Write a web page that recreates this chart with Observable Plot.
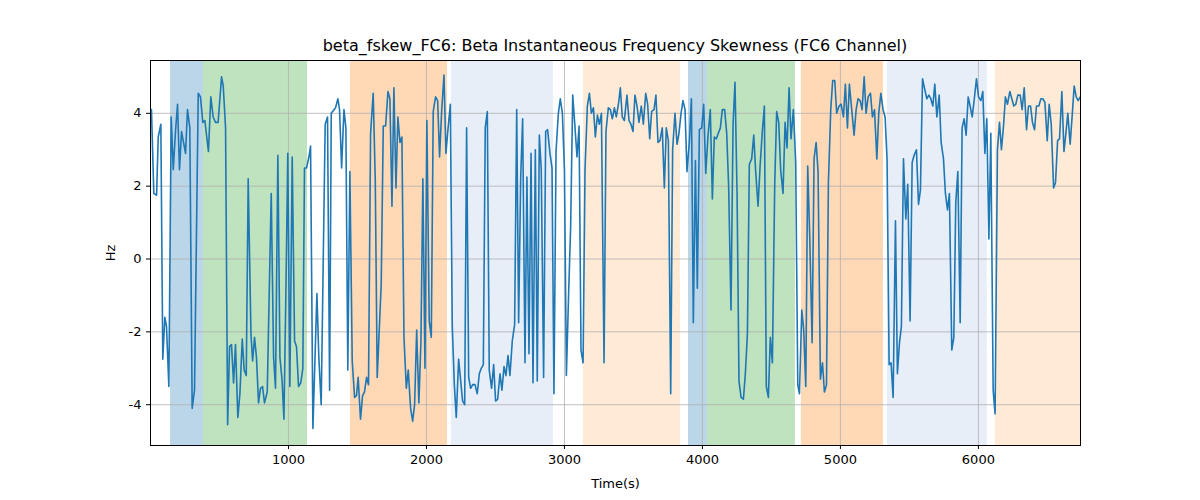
<!DOCTYPE html>
<html><head><meta charset="utf-8">
<script src="https://cdn.jsdelivr.net/npm/d3@7"></script>
<script src="https://cdn.jsdelivr.net/npm/@observablehq/plot@0.6"></script>
<style>
body{margin:0;background:#fff;font-family:"DejaVu Sans",sans-serif;}
#wrap{position:relative;width:1200px;height:500px;}
#title{position:absolute;top:36px;left:150px;width:930px;text-align:center;font-size:16px;color:#000;}
</style></head><body>
<div id="wrap"><div id="title">beta_fskew_FC6: Beta Instantaneous Frequency Skewness (FC6 Channel)</div></div>
<script>
const times = [7,24,44,56,75,89,104,116,133,150,165,181,196,210,225,254,268,285,302,319,346,362,379,394,420,437,454,471,490,515,527,544,559,573,587,602,616,633,648,665,679,694,708,728,740,754,768,783,797,812,826,846,875,892,906,923,938,954,967,984,995,1010,1027,1044,1058,1073,1089,1104,1116,1131,1148,1160,1177,1206,1220,1237,1266,1283,1298,1310,1341,1358,1370,1385,1402,1416,1430,1445,1462,1479,1493,1505,1522,1537,1551,1566,1580,1595,1614,1629,1643,1672,1687,1704,1721,1735,1750,1764,1779,1793,1808,1822,1837,1854,1868,1885,1900,1914,1929,1945,1960,1974,1989,2003,2020,2035,2049,2066,2081,2095,2110,2127,2141,2158,2173,2187,2202,2216,2233,2248,2262,2277,2291,2306,2320,2335,2352,2368,2383,2397,2412,2426,2441,2455,2472,2487,2501,2516,2533,2547,2562,2576,2591,2605,2622,2639,2654,2668,2683,2697,2714,2728,2743,2758,2772,2789,2803,2818,2832,2849,2864,2878,2895,2910,2924,2939,2956,2970,2985,3000,3014,3031,3045,3060,3074,3091,3106,3120,3135,3149,3166,3181,3195,3210,3224,3239,3253,3268,3287,3301,3318,3333,3347,3362,3376,3393,3405,3419,3434,3453,3468,3482,3497,3511,3526,3540,3557,3572,3589,3603,3618,3632,3649,3663,3678,3692,3709,3724,3738,3753,3770,3784,3801,3816,3830,3845,3859,3874,3888,3905,3920,3934,3949,3963,3978,3995,4009,4024,4040,4057,4072,4086,4101,4115,4130,4144,4161,4176,4190,4207,4222,4236,4251,4265,4280,4297,4311,4326,4340,4357,4372,4386,4403,4418,4434,4449,4463,4478,4492,4507,4524,4538,4553,4567,4584,4599,4613,4628,4642,4659,4676,4691,4703,4720,4734,4749,4763,4778,4795,4809,4824,4838,4855,4870,4884,4899,4913,4930,4944,4959,4973,4990,5005,5022,5036,5051,5065,5082,5099,5114,5128,5143,5157,5172,5186,5201,5218,5232,5247,5264,5278,5293,5309,5324,5338,5353,5367,5382,5399,5413,5428,5442,5457,5474,5488,5505,5520,5534,5551,5566,5580,5595,5609,5626,5641,5655,5670,5684,5699,5716,5730,5747,5761,5776,5790,5807,5822,5836,5851,5868,5882,5897,5911,5926,5940,5955,5969,5986,6001,6018,6032,6047,6061,6076,6090,6107,6121,6138,6153,6167,6182,6196,6211,6228,6242,6257,6271,6286,6303,6317,6332,6349,6363,6378,6392,6407,6421,6438,6453,6467,6482,6499,6513,6528,6545,6559,6574,6588,6605,6620,6634,6648,6665,6680,6694,6709,6723,6738];
const values = [4.1,1.8,1.75,3.35,3.7,-2.75,-1.6,-1.85,-3.5,3.9,2.45,3.5,4.25,2.45,3.5,2.9,4.1,3.6,-4.1,-3.6,4.55,4.45,3.75,3.8,2.95,4.45,3.9,3.75,3.75,5.0,4.75,3.6,-4.55,-2.4,-2.35,-3.4,-2.35,-4.35,-3.7,-2.2,-3.05,-3.2,2.2,-2.05,-2.8,-2.15,-2.7,-3.95,-3.55,-3.5,-3.95,-3.65,1.8,-2.7,-3.55,2.85,-2.7,-3.35,-4.4,-0.2,2.9,-3.5,2.8,-2.25,-2.4,-3.5,-3.4,-3.0,2.5,2.5,2.8,3.1,-4.65,-0.95,-2.7,-4.0,3.7,3.9,-3.6,4.0,4.15,4.4,4.1,2.5,4.1,3.6,-3.05,2.4,-2.8,-3.8,-3.75,-3.25,-4.4,-3.75,-3.65,-3.25,-3.45,3.45,4.55,2.15,-3.25,-0.7,3.65,3.65,4.6,4.4,1.45,4.7,1.95,3.9,3.2,3.35,-2.15,-3.55,-3.05,-4.1,-4.45,-4.0,-1.95,-3.95,-2.25,2.2,-3.0,3.8,-1.7,-2.15,4.05,4.45,4.35,2.8,4.05,5.05,2.9,3.65,4.25,-1.85,-3.45,-4.35,-2.75,-3.35,-3.9,-4.0,3.6,-3.25,-3.55,-3.45,-3.45,-3.7,-3.15,-3.0,-2.9,3.6,4.05,-3.05,-3.55,-2.9,-3.9,-3.85,-3.15,-3.6,-2.95,-3.2,-2.65,-3.2,-2.25,-1.8,4.1,-1.75,2.25,3.85,-2.85,2.25,-2.6,2.9,-3.4,3.0,-3.35,3.4,2.45,-3.25,3.5,3.55,2.9,2.5,-3.7,2.95,4.0,4.4,4.0,2.45,-3.2,-0.85,0.9,4.5,3.75,2.8,3.65,-2.5,-2.85,2.45,4.2,4.55,4.0,4.15,3.35,3.95,3.7,4.0,-2.85,3.5,4.15,4.1,3.85,4.15,3.9,4.3,4.7,3.9,3.8,4.5,3.8,3.7,3.5,4.5,4.2,3.75,4.2,3.7,4.55,4.25,3.3,4.05,4.1,4.5,3.2,3.25,3.6,1.95,3.6,3.25,-3.7,3.0,4.0,3.15,3.45,4.0,4.35,4.1,2.4,3.2,4.4,-1.75,2.7,-0.8,3.55,3.6,4.25,2.35,3.35,4.1,1.65,3.35,3.3,3.45,3.6,4.1,4.1,3.45,2.0,-1.4,3.7,4.85,1.8,-3.35,-3.8,-3.85,-3.15,-2.05,2.6,2.75,3.4,2.4,1.45,2.55,3.5,4.2,-3.5,-3.8,-2.15,-2.85,2.05,4.05,3.75,2.45,1.8,3.75,3.05,4.7,3.3,4.1,2.65,-3.45,-3.7,-1.4,-1.95,-3.5,2.55,0.55,-2.3,2.75,3.2,2.4,-3.3,-2.85,-3.65,-3.45,2.1,4.1,4.9,4.9,4.0,4.2,4.25,3.9,4.8,3.6,4.8,4.1,3.4,4.1,4.4,4.35,4.1,5.0,4.0,4.45,4.55,3.9,4.1,2.75,4.0,4.55,4.1,3.9,2.75,-2.9,-2.85,-3.8,1.05,-3.15,-2.3,-1.85,2.75,1.1,2.05,-1.7,2.65,2.85,3.0,1.5,1.9,4.95,4.7,4.4,4.5,4.4,4.2,4.8,3.9,4.5,3.2,2.75,1.8,1.35,1.8,-2.5,-2.15,1.55,2.4,-1.75,3.6,3.85,3.4,4.45,4.2,3.9,4.35,4.95,4.45,4.35,4.6,2.9,3.85,0.55,3.45,-3.6,-4.25,3.0,3.75,3.0,3.65,4.45,4.25,4.6,4.4,4.2,4.25,4.5,4.5,4.1,4.7,3.55,4.2,4.2,3.75,3.55,4.2,4.2,4.4,4.4,4.3,3.25,4.25,3.7,1.95,2.1,3.25,3.3,4.6,2.95,3.45,4.0,3.15,3.95,4.75,4.45,4.35,4.45];
const spanStart = [145,384,1449,2181,3138,3899,4036,4717,5341,6123];
const spanEnd   = [384,1138,2152,2920,3841,4036,4674,5312,6065,6740];
const spanColor = ["#1f77b4","#2ca02c","#ff7f0e","#aec7e8","#ffbb78","#1f77b4","#2ca02c","#ff7f0e","#aec7e8","#ffbb78"];
const xTicks = [1000,2000,3000,4000,5000,6000];
const yTicks = [-4,-2,0,2,4];

const pts = times.map((t,i)=>({t, v: values[i]}));
const spans = spanStart.map((s,i)=>({s, e: spanEnd[i], c: spanColor[i]}));

const chart = Plot.plot({
  width: 1200, height: 500,
  marginLeft: 150, marginRight: 120, marginTop: 60, marginBottom: 55,
  style: {fontFamily: "DejaVu Sans, sans-serif", fontSize: "13px", color: "#000", background: "transparent"},
  x: {domain: [0, 6740], ticks: xTicks, tickSize: 4, label: "Time(s)", labelAnchor: "center", labelArrow: "none", labelOffset: 42, tickFormat: d3.format("d")},
  y: {domain: [-5.12, 5.45], ticks: yTicks, tickSize: 4, label: "Hz", labelAnchor: "center", labelArrow: "none", labelOffset: 45, tickFormat: d => d},
  marks: [
    Plot.rectX(spans, {x1: "s", x2: "e", y1: -5.12, y2: 5.45, fill: "c", fillOpacity: 0.3}),
    Plot.gridX(xTicks, {stroke: "#b0b0b0", strokeOpacity: 1, strokeWidth: 0.8}),
    Plot.gridY(yTicks, {stroke: "#b0b0b0", strokeOpacity: 1, strokeWidth: 0.8}),
    Plot.line(pts, {x: "t", y: "v", stroke: "#1f77b4", strokeWidth: 1.6}),
    Plot.frame({stroke: "#000", strokeWidth: 1})
  ]
});
document.getElementById("wrap").appendChild(chart);
</script></body></html>
